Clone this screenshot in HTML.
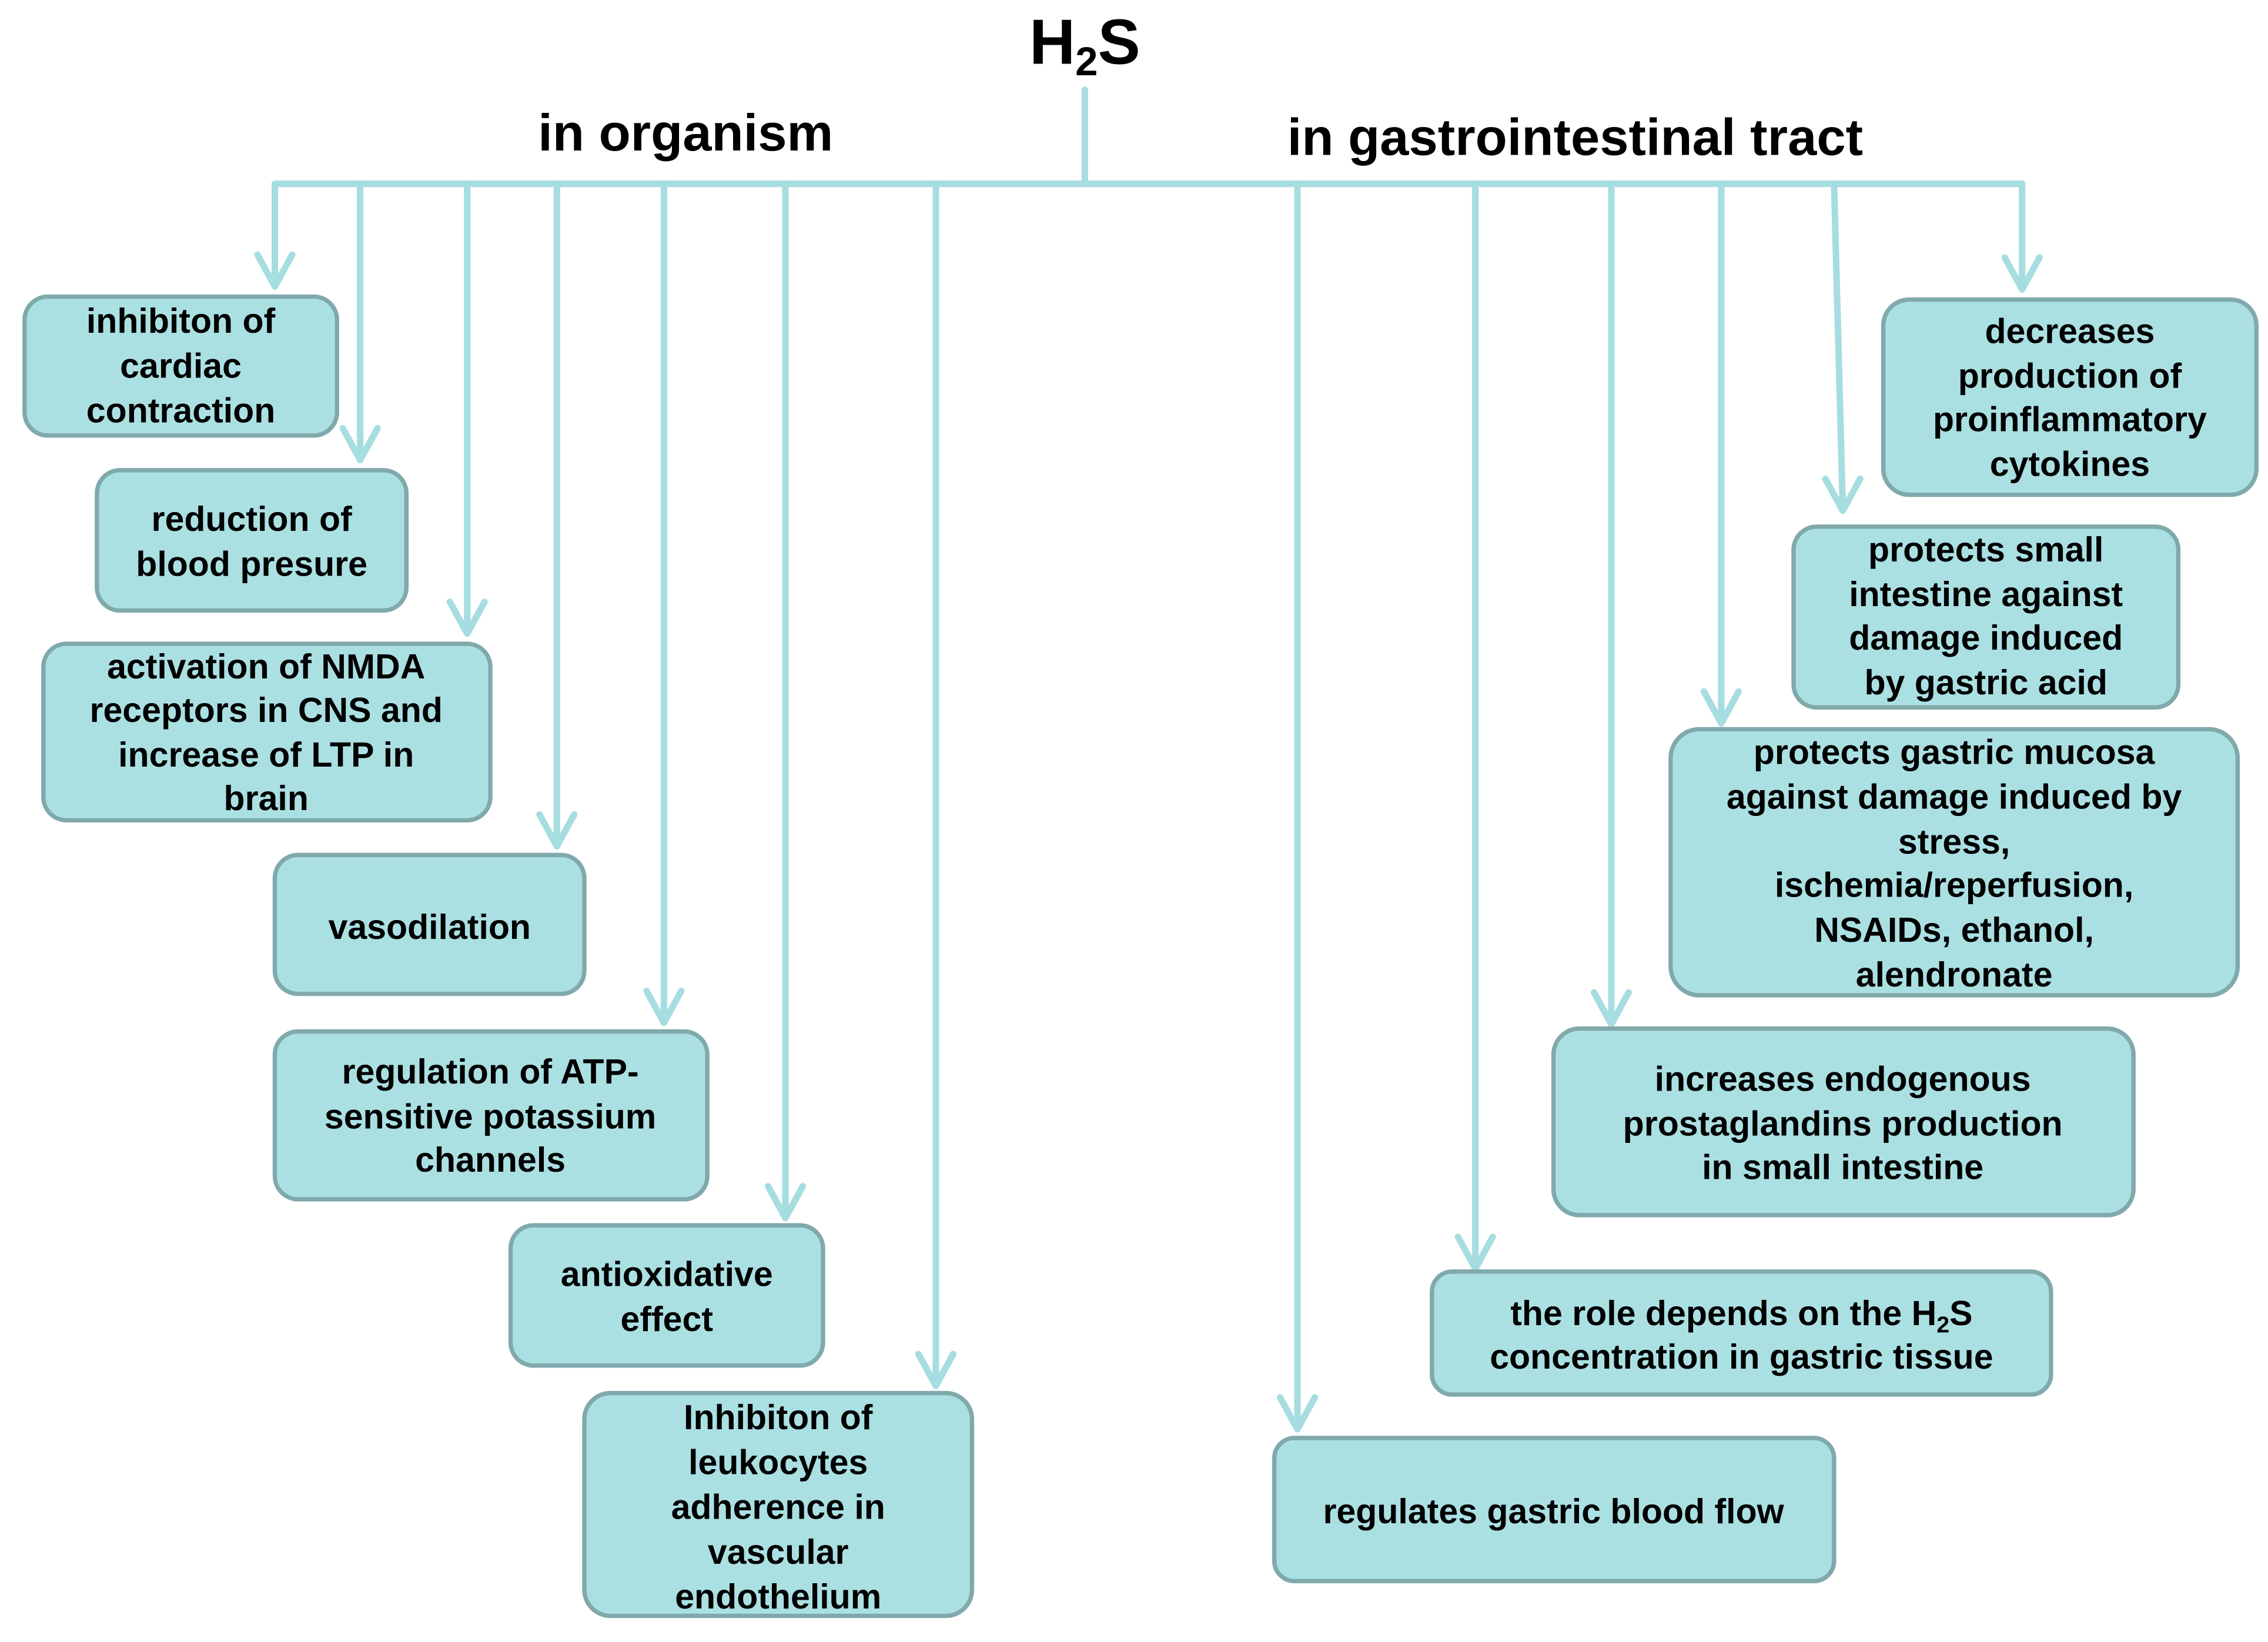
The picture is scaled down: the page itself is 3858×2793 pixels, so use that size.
<!DOCTYPE html>
<html><head><meta charset="utf-8"><style>
html,body{margin:0;padding:0;background:#fff}
svg{display:block}
text{font-family:"Liberation Sans",Arial,sans-serif;font-weight:bold;fill:#000}
</style></head><body>
<svg width="3858" height="2793" viewBox="0 0 1568 1135" xmlns="http://www.w3.org/2000/svg">
<g stroke="#a6dde0" stroke-width="4.5" fill="none" stroke-linecap="round" stroke-linejoin="round">
<path d="M750 62V127M190 127H1398"/>
<path d="M190 127V196M178 176L190 198L202 176"/>
<path d="M249 127V316M237 296L249 318L261 296"/>
<path d="M323 127V436M311 416L323 438L335 416"/>
<path d="M385 127V583M373 563L385 585L397 563"/>
<path d="M459 127V705M447 685L459 707L471 685"/>
<path d="M543 127V840M531 820L543 842L555 820"/>
<path d="M647 127V956M635 936L647 958L659 936"/>
<path d="M897 127V986M885 966L897 988L909 966"/>
<path d="M1020 127V875M1008 855L1020 877L1032 855"/>
<path d="M1114 127V706M1102 686L1114 708L1126 686"/>
<path d="M1190 127V498M1178 478L1190 500L1202 478"/>
<path d="M1268 127L1274 351M1262 331L1274 353L1286 331"/>
<path d="M1398 127V198M1386 178L1398 200L1410 178"/>
</g>
<g fill="#abe0e3" stroke="#80a9ac" stroke-width="3">
<rect x="17" y="205" width="216" height="96" rx="16"/>
<rect x="67" y="325" width="214" height="97" rx="16"/>
<rect x="30" y="445" width="309" height="122" rx="16"/>
<rect x="190" y="591" width="214" height="96" rx="16"/>
<rect x="190" y="713" width="299" height="116" rx="16"/>
<rect x="353" y="847" width="216" height="97" rx="16"/>
<rect x="404" y="963" width="268" height="154" rx="18"/>
<rect x="1302" y="207" width="258" height="135" rx="18"/>
<rect x="1240" y="364" width="266" height="125" rx="16"/>
<rect x="1155" y="504" width="392" height="184" rx="20"/>
<rect x="1074" y="711" width="401" height="129" rx="18"/>
<rect x="990" y="879" width="428" height="85" rx="14"/>
<rect x="881" y="994" width="387" height="99" rx="14"/>
</g>
<text x="750" y="44" font-size="44" text-anchor="middle">H<tspan font-size="28" dy="8">2</tspan><tspan dy="-8">S</tspan></text>
<text x="474" y="104" font-size="36" text-anchor="middle">in organism</text>
<text x="1089" y="107" font-size="36" text-anchor="middle">in gastrointestinal tract</text>
<g font-size="24" text-anchor="middle">
<text x="125"><tspan x="125" y="230">inhibiton of</tspan><tspan x="125" y="261">cardiac</tspan><tspan x="125" y="292">contraction</tspan></text>
<text><tspan x="174" y="367">reduction of</tspan><tspan x="174" y="398">blood presure</tspan></text>
<text><tspan x="184" y="469">activation of NMDA</tspan><tspan x="184" y="499">receptors in CNS and</tspan><tspan x="184" y="530">increase of LTP in</tspan><tspan x="184" y="560">brain</tspan></text>
<text><tspan x="297" y="649">vasodilation</tspan></text>
<text><tspan x="339" y="749">regulation of ATP-</tspan><tspan x="339" y="780">sensitive potassium</tspan><tspan x="339" y="810">channels</tspan></text>
<text><tspan x="461" y="889">antioxidative</tspan><tspan x="461" y="920">effect</tspan></text>
<text><tspan x="538" y="988">Inhibiton of</tspan><tspan x="538" y="1019">leukocytes</tspan><tspan x="538" y="1050">adherence in</tspan><tspan x="538" y="1081">vascular</tspan><tspan x="538" y="1112">endothelium</tspan></text>
<text><tspan x="1431" y="237">decreases</tspan><tspan x="1431" y="268">production of</tspan><tspan x="1431" y="298">proinflammatory</tspan><tspan x="1431" y="329">cytokines</tspan></text>
<text><tspan x="1373" y="388">protects small</tspan><tspan x="1373" y="419">intestine against</tspan><tspan x="1373" y="449">damage induced</tspan><tspan x="1373" y="480">by gastric acid</tspan></text>
<text><tspan x="1351" y="528">protects gastric mucosa</tspan><tspan x="1351" y="559">against damage induced by</tspan><tspan x="1351" y="590">stress,</tspan><tspan x="1351" y="620">ischemia/reperfusion,</tspan><tspan x="1351" y="651">NSAIDs, ethanol,</tspan><tspan x="1351" y="682">alendronate</tspan></text>
<text><tspan x="1274" y="754">increases endogenous</tspan><tspan x="1274" y="785">prostaglandins production</tspan><tspan x="1274" y="815">in small intestine</tspan></text>
<text><tspan x="1204" y="916">the role depends on the H<tspan font-size="16" dy="5">2</tspan><tspan dy="-5">S</tspan></tspan><tspan x="1204" y="946">concentration in gastric tissue</tspan></text>
<text><tspan x="1074" y="1053">regulates gastric blood flow</tspan></text>
</g>
</svg>
</body></html>
